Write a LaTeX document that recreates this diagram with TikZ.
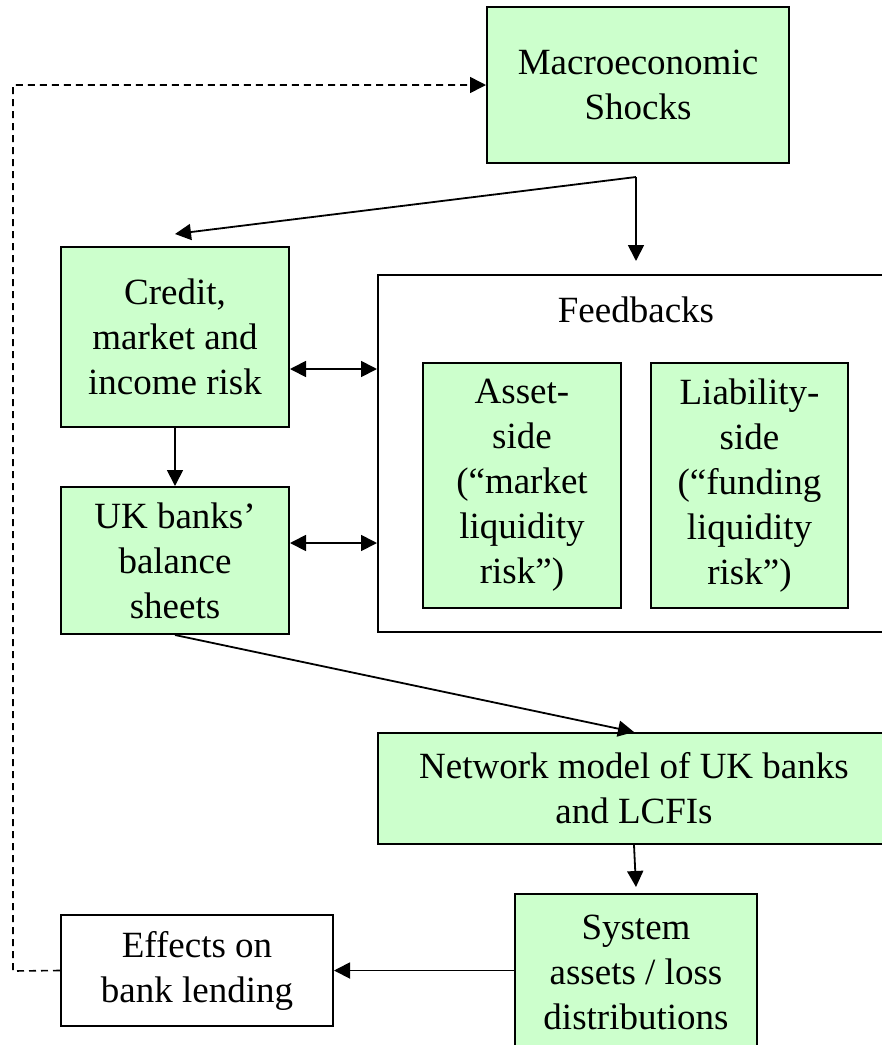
\documentclass[tikz,border=0pt]{standalone}
\usepackage{fontspec}
\setmainfont{Liberation Serif}
\usetikzlibrary{arrows.meta}
\definecolor{boxgreen}{HTML}{CCFFCC}
\tikzset{
  box/.style={draw=black, line width=2pt, inner sep=0pt, align=center,
    font=\fontsize{37}{45}\selectfont},
  gbox/.style={box, fill=boxgreen},
  tip/.style={Triangle[length=16pt,width=16pt]},
  arr/.style={line width=1.8pt, -{Triangle[length=16pt,width=16pt]}},
  darr/.style={line width=1.8pt, {Triangle[length=16pt,width=16pt]}-{Triangle[length=16pt,width=16pt]}},
  dashline/.style={line width=1.6pt, dash pattern=on 7pt off 5pt, -{Triangle[length=16pt,width=16pt]}},
  lbl/.style={inner sep=0pt, font=\fontsize{37}{45}\selectfont}
}
\begin{document}
\begin{tikzpicture}[x=1pt,y=-1pt]
\useasboundingbox (0,0) rectangle (882,1045);
\clip (0,0) rectangle (882,1045);
\node[gbox, minimum width=302pt, minimum height=156pt] (macro) at (638,85) {Macroeconomic\\Shocks};
\node[gbox, minimum width=228pt, minimum height=180pt] (credit) at (175,337) {Credit,\\market and\\income risk};
\node[gbox, minimum width=228pt, minimum height=147pt] (uk) at (175,560.5) {UK banks’\\balance\\sheets};
\node[box, minimum width=516pt, minimum height=357pt] (fb) at (636,453.5) {};
\node[lbl, anchor=base] (fbl) at (636,322) {Feedbacks};
\node[gbox, minimum width=198pt, minimum height=245pt] (asset) at (522,485.5) {Asset-\\side\\(“market\\liquidity\\risk”)};
\node[gbox, minimum width=197pt, minimum height=245pt] (liab) at (749.5,485.5) {Liability-\\side\\(“funding\\liquidity\\risk”)};
\node[gbox, minimum width=512pt, minimum height=111pt] (net) at (634,788.5) {Network model of UK banks\\and LCFIs};
\node[gbox, minimum width=242pt, minimum height=156pt] (sys) at (636,972) {System\\assets / loss\\distributions};
\node[box, fill=white, minimum width=272pt, minimum height=111pt] (eff) at (197,970.5) {Effects on\\bank lending};
\coordinate (split) at (636,177);
\coordinate (dcorner1) at (13,971);
\coordinate (dcorner2) at (13,85);
% connectors
\draw[arr] (split) -- ([yshift=12pt]credit.north);
\draw[arr] (split) -- ([yshift=13pt]fb.north);
\draw[arr] (credit.south) -- (uk.north);
\draw[darr] ([yshift=-32pt]credit.east) -- ([yshift=-32pt]credit.east -| fb.west);
\draw[darr] ([yshift=17.5pt]uk.east) -- ([yshift=17.5pt]uk.east -| fb.west);
\draw[arr] (uk.south) -- (net.north);
\draw[arr] (net.south) -- ([yshift=6pt]sys.north);
\draw[arr] (sys.west |- eff.east) -- (eff.east);
\draw[dashline] (eff.west) -- (dcorner1) -- (dcorner2) -- (macro.west);
\end{tikzpicture}
\end{document}
